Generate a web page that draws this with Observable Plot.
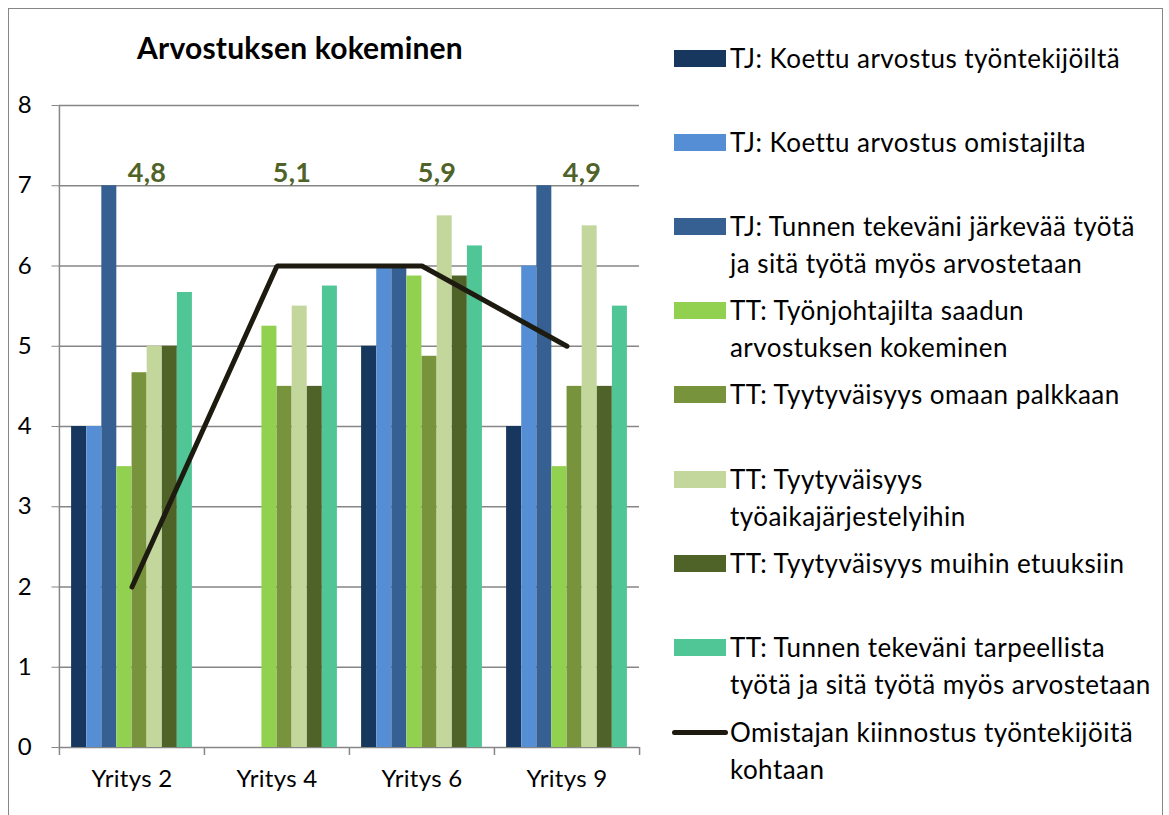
<!DOCTYPE html>
<html>
<head>
<meta charset="utf-8">
<script src="https://cdn.jsdelivr.net/npm/d3@7"></script>
<script src="https://cdn.jsdelivr.net/npm/@observablehq/plot@0.6"></script>
<style>
  html, body { margin: 0; padding: 0; background: #fff; }
  body { width: 1169px; height: 815px; position: relative; overflow: hidden; font-family: Lato, "Open Sans", sans-serif; color: #000; }
  #frame { position: absolute; left: 8px; top: 8px; width: 1155px; height: 830px; border: 1.5px solid #868686; box-sizing: border-box; }
  #title { position: absolute; left: 0; width: 600px; text-align: center; top: 29px; font-size: 30px; font-weight: bold; letter-spacing: 0.2px; }
  #chart { position: absolute; left: 0; top: 0; }
  #legend { position: absolute; left: 672px; top: 0; }
  .entry { position: absolute; left: 0; width: 490px; font-size: 26px; line-height: 37px; letter-spacing: 0.45px; }
  .sw { position: absolute; left: 2px; top: 10px; width: 52px; height: 17px; }
  .ln { position: absolute; left: 0px; top: 16px; width: 56px; height: 5px; border-radius: 3px; }
  .txt { position: absolute; left: 58px; top: 0; white-space: nowrap; }
</style>
</head>
<body>
<div id="frame"></div>
<div id="chart"></div>
<div id="title">Arvostuksen kokeminen</div>
<div id="legend"></div>
<script>
// ---- data ----
const companies = ["Yritys 2", "Yritys 4", "Yritys 6", "Yritys 9"];
const seriesNames = [
  "TJ: Koettu arvostus työntekijöiltä",
  "TJ: Koettu arvostus omistajilta",
  "TJ: Tunnen tekeväni järkevää työtä ja sitä työtä myös arvostetaan",
  "TT: Työnjohtajilta saadun arvostuksen kokeminen",
  "TT: Tyytyväisyys omaan palkkaan",
  "TT: Tyytyväisyys työaikajärjestelyihin",
  "TT: Tyytyväisyys muihin etuuksiin",
  "TT: Tunnen tekeväni tarpeellista työtä ja sitä työtä myös arvostetaan"
];
const legendLines = [
  ["TJ: Koettu arvostus työntekijöiltä"],
  ["TJ: Koettu arvostus omistajilta"],
  ["TJ: Tunnen tekeväni järkevää työtä", "ja sitä työtä myös arvostetaan"],
  ["TT: Työnjohtajilta saadun", "arvostuksen kokeminen"],
  ["TT: Tyytyväisyys omaan palkkaan"],
  ["TT: Tyytyväisyys", "työaikajärjestelyihin"],
  ["TT: Tyytyväisyys muihin etuuksiin"],
  ["TT: Tunnen tekeväni tarpeellista", "työtä ja sitä työtä myös arvostetaan"]
];
const tjArvostusTyontekijoilta = [4, null, 5, 4];
const tjArvostusOmistajilta = [4, null, 6, 6];
const tjJarkevaaTyota = [7, null, 6, 7];
const ttTyonjohtajilta = [3.5, 5.25, 5.875, 3.5];
const ttPalkka = [4.67, 4.5, 4.875, 4.5];
const ttTyoaika = [5, 5.5, 6.625, 6.5];
const ttEtuudet = [5, 4.5, 5.875, 4.5];
const ttTarpeellista = [5.67, 5.75, 6.25, 5.5];
const seriesValues = [tjArvostusTyontekijoilta, tjArvostusOmistajilta, tjJarkevaaTyota,
  ttTyonjohtajilta, ttPalkka, ttTyoaika, ttEtuudet, ttTarpeellista];
const lineName = "Omistajan kiinnostus työntekijöitä kohtaan";
const lineLegend = ["Omistajan kiinnostus työntekijöitä", "kohtaan"];
const omistajanKiinnostus = [2, 6, 6, 5];
const groupLabels = ["4,8", "5,1", "5,9", "4,9"];
const yTicks = [0, 1, 2, 3, 4, 5, 6, 7, 8];
const colors = ["#17375e", "#558ed5", "#366092", "#92d050", "#77933c", "#c3d69b", "#4f6228", "#50c595"];
const lineColor = "#1d1b10";
const labelColor = "#4f6228";

// ---- layout ----
const W = 645, H = 815, mL = 58.5, mR = 6, mT = 105, mB = 68;
const band = (W - mL - mR) / companies.length;
const step = band / 9.6;
const gridColor = "#868686";

const barMarks = seriesValues.map((vals, i) =>
  Plot.barY(companies.map((c, j) => ({company: c, value: vals[j]})).filter(d => d.value != null), {
    x: "company", y: "value", fill: colors[i],
    dx: (i - 3.5) * step,
    insetLeft: (band - step) / 2, insetRight: (band - step) / 2
  })
);

const lineData = companies.map((c, j) => ({company: c, value: omistajanKiinnostus[j]}));
const labelData = companies.map((c, j) => ({company: c, label: groupLabels[j]}));

const plot = Plot.plot({
  width: W, height: H,
  marginLeft: mL, marginRight: mR, marginTop: mT, marginBottom: mB,
  style: {fontFamily: "Lato, sans-serif", fontSize: "24px", letterSpacing: "0.3px", color: "#000", background: "transparent", overflow: "visible"},
  x: {domain: companies, padding: 0, label: null, tickSize: 0, tickPadding: 22},
  y: {domain: [0, 8], ticks: yTicks, tickSize: 7, tickPadding: 20, label: null, tickFormat: d => String(d)},
  marks: [
    Plot.ruleY(yTicks, {stroke: gridColor, strokeWidth: 1.5, strokeOpacity: 1}),
    ...barMarks,
    Plot.ruleX([companies[0]], {dx: -band / 2, stroke: gridColor, strokeWidth: 1.5}),
    Plot.ruleX(companies, {y1: 0, y2: 0, dx: -band / 2, insetBottom: -8, stroke: gridColor, strokeWidth: 1.5}),
    Plot.ruleX([companies[companies.length - 1]], {y1: 0, y2: 0, dx: band / 2, insetBottom: -8, stroke: gridColor, strokeWidth: 1.5}),
    Plot.line(lineData, {x: "company", y: "value", stroke: lineColor, strokeWidth: 5, strokeLinecap: "round", strokeLinejoin: "miter"}),
    Plot.text(labelData, {x: "company", y: 7.15, text: "label", dx: 15, fill: labelColor, fontWeight: "bold", fontSize: 27})
  ]
});
plot.querySelectorAll('[aria-label="y-axis tick"] path, [aria-label="y-axis tick"]').forEach(e => e.setAttribute("stroke", gridColor));
document.getElementById("chart").appendChild(plot);

// ---- legend ----
const legend = document.getElementById("legend");
const centers = [58, 142, 226, 310, 394, 479, 563, 647, 732];
const entries = legendLines.map((lines, i) => ({lines, color: colors[i], kind: "bar"}));
entries.push({lines: lineLegend, color: lineColor, kind: "line"});
entries.forEach((e, i) => {
  const div = document.createElement("div");
  div.className = "entry";
  div.style.top = (centers[i] - 18.5) + "px";
  const sw = document.createElement("div");
  sw.className = e.kind === "bar" ? "sw" : "ln";
  sw.style.background = e.color;
  div.appendChild(sw);
  const t = document.createElement("div");
  t.className = "txt";
  t.innerHTML = e.lines.join("<br>");
  div.appendChild(t);
  legend.appendChild(div);
});
</script>
</body>
</html>
